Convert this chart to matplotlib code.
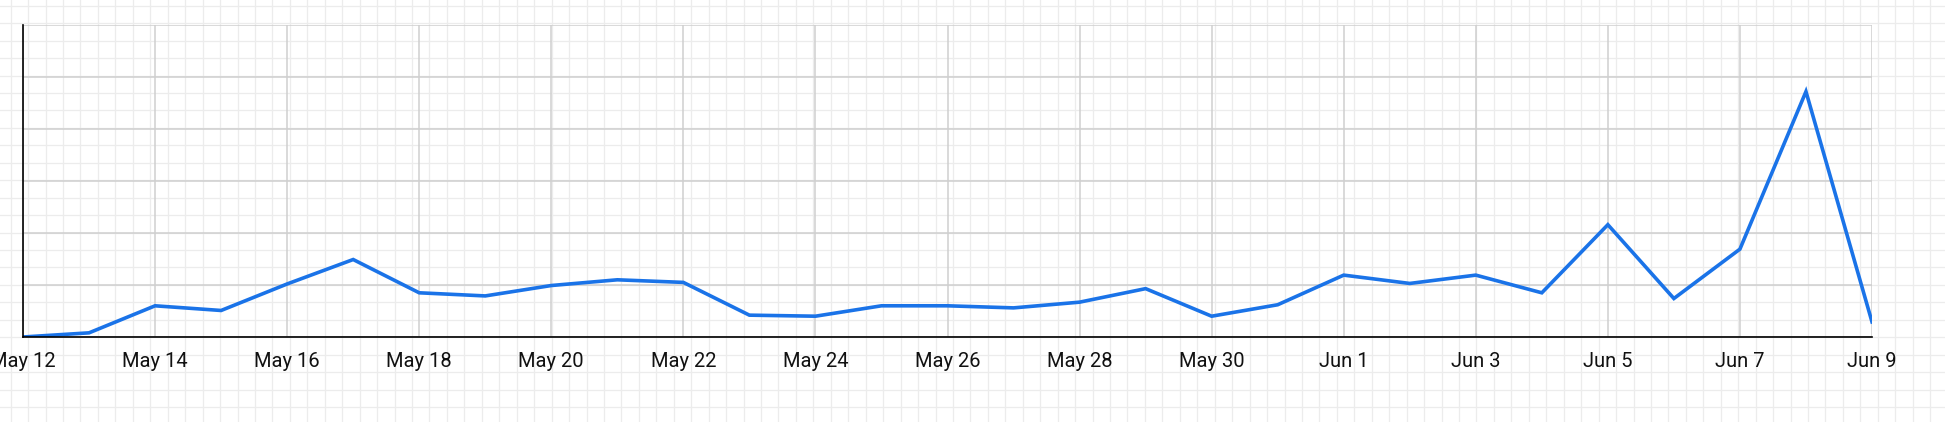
import numpy as np
import pandas as pd
import matplotlib
matplotlib.use("Agg")
import matplotlib.pyplot as plt
import matplotlib.dates as mdates
from matplotlib.ticker import FuncFormatter

# daily values, May 12 -> Jun 9
dates = pd.date_range("2024-05-12", "2024-06-09", freq="D")
values = [0, 0.8, 6.0, 5.1, 10.2, 14.9, 8.5, 7.9, 9.9, 11.0,
          10.5, 4.2, 4.0, 6.0, 6.0, 5.6, 6.7, 9.3, 4.0, 6.2,
          11.9, 10.3, 11.9, 8.5, 21.6, 7.4, 16.9, 47.2, 2.9]
y_ticks = [0, 10, 20, 30, 40, 50, 60]

W, H, DPI = 1945, 422, 100
plt.rcParams['font.family'] = ['Roboto', 'DejaVu Sans']

fig = plt.figure(figsize=(W / DPI, H / DPI), dpi=DPI)
fig.patch.set_facecolor('white')

# graph-paper background over the whole figure
bg = fig.add_axes([0, 0, 1, 1], zorder=-1)
bg.set_xlim(0, W); bg.set_ylim(H, 0)
bg.axis('off')
step = 17.45
for x in np.arange(10.7, W, step):
    bg.axvline(x, color='#ececec', lw=0.9)
for y in np.arange(5.7, H, step):
    bg.axhline(y, color='#ececec', lw=0.9)

ax = fig.add_axes([23 / W, 85 / H, (1872 - 23) / W, 312 / H])
ax.patch.set_alpha(0)

ax.plot(dates, values, color='#1a73e8', lw=2.6, solid_joinstyle='miter', zorder=3)

ax.set_xlim(dates[0], dates[-1])
ax.set_ylim(0, y_ticks[-1])
ax.set_yticks(y_ticks)
ax.set_yticklabels([])
ax.xaxis.set_major_locator(mdates.DayLocator(interval=2))
ax.xaxis.set_major_formatter(FuncFormatter(
    lambda v, _: "{d:%b} {d.day}".format(d=mdates.num2date(v))))

ax.grid(True, color='#cfcfcf', lw=1.1)
ax.set_axisbelow(True)
ax.tick_params(axis='both', length=0)
ax.tick_params(axis='x', labelsize=14.5, pad=11, colors='#111111')

for side in ('top', 'right'):
    ax.spines[side].set_visible(False)
for side in ('left', 'bottom'):
    ax.spines[side].set_color('black')
    ax.spines[side].set_linewidth(1.2)
    ax.spines[side].set_zorder(4)

fig.savefig("out.png", dpi=DPI)
